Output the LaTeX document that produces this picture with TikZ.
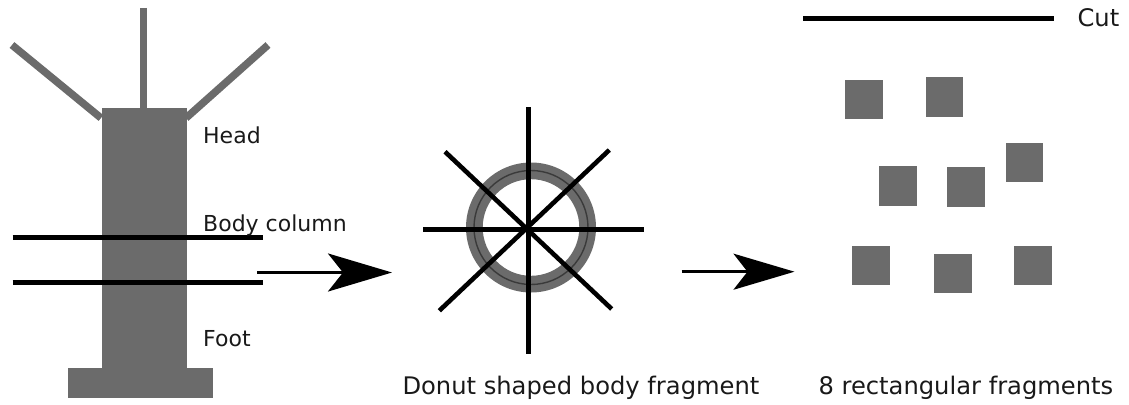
\documentclass[tikz,border=0pt]{standalone}
\usepackage{fontspec}
\setmainfont{DejaVu Sans}
\usetikzlibrary{arrows.meta}
\definecolor{tissue}{RGB}{107,107,107}
\definecolor{tissueline}{RGB}{58,58,58}
\tikzset{
  tissuefill/.style={fill=tissue, draw=none},
  tentacle/.style={draw=tissue, line width=7.5pt, line cap=butt},
  cutline/.style={draw=black, line width=4.6pt, line cap=butt},
  frag/.style={fill=tissue, draw=none},
  lbl/.style={anchor=base west, inner sep=0pt, font=\fontsize{22}{26}\selectfont, text=black!90},
  caption/.style={lbl, font=\fontsize{24.2}{28}\selectfont},
  bigarrow/.style={draw=black, line width=3pt,
    -{Stealth[length=64pt, width=38pt, inset=15pt]}},
}
\begin{document}
\begin{tikzpicture}[x=1pt,y=-1pt]
\useasboundingbox (0,0) rectangle (1129,404);

% --- hydra: tentacles, body column and foot
\draw[tentacle] (12,45) -- (101,118);
\draw[tentacle] (268,45) -- (186,118);
\draw[tentacle] (143.3,8) -- (143.3,109);
\fill[tissuefill] (101.7,107.7) rectangle (187.3,368.5);
\fill[tissuefill] (68,368) rectangle (212.7,397.7);

% --- two cuts through the body column
\coordinate (c1a) at (12.7,237.3);
\coordinate (c1b) at (263.3,237.3);
\coordinate (c2a) at (12.7,282.3);
\coordinate (c2b) at (263.3,282.3);
\draw[cutline] (c1a) -- (c1b);
\draw[cutline] (c2a) -- (c2b);

\node[lbl] (head) at (203,143.5) {Head};
\node[lbl] (column) at (203,231) {Body column};
\node[lbl] (foot) at (203,346.5) {Foot};

% --- first arrow
\coordinate (a1s) at (257,272.5);
\coordinate (a1e) at (392,272.5);
\draw[bigarrow] (a1s) -- (a1e);

% --- donut shaped fragment with eight radial cuts
\coordinate (ring) at (531,227.5);
\fill[tissue, even odd rule] (ring) circle[radius=65] (ring) circle[radius=48.3];
\draw[tissueline, line width=1.4pt] (ring) circle[radius=57];
\draw[cutline] (528.3,107.3) -- (528.3,354);
\draw[cutline] (423.3,229.3) -- (644.3,229.3);
\draw[cutline] (445,151.7) -- (611.7,309);
\draw[cutline] (609.3,150) -- (439.3,310.7);
\node[caption] (donut) at (402.3,394.5) {Donut shaped body fragment};

% --- second arrow
\coordinate (a2s) at (681.7,271.7);
\coordinate (a2e) at (794.5,271.7);
\draw[bigarrow, -{Stealth[length=61pt, width=36pt, inset=14pt]}] (a2s) -- (a2e);

% --- legend for the cut line
\coordinate (k1) at (803.3,18.3);
\coordinate (k2) at (1054.3,18.3);
\draw[cutline] (k1) -- (k2);
\node[caption] (cut) at (1077.3,26.7) {Cut};

% --- eight rectangular fragments
\fill[frag] (845,80) rectangle (882.7,119.3);
\fill[frag] (925.7,77.3) rectangle (963.3,116.7);
\fill[frag] (1006,142.7) rectangle (1043.3,182);
\fill[frag] (879.3,166) rectangle (917.3,206);
\fill[frag] (946.7,166.7) rectangle (984.7,206.7);
\fill[frag] (852.3,245.7) rectangle (890,285);
\fill[frag] (934.3,254) rectangle (972,293.3);
\fill[frag] (1014.3,245.7) rectangle (1052,285);
\node[caption] (frags) at (818.3,394.5) {8 rectangular fragments};
\end{tikzpicture}
\end{document}
